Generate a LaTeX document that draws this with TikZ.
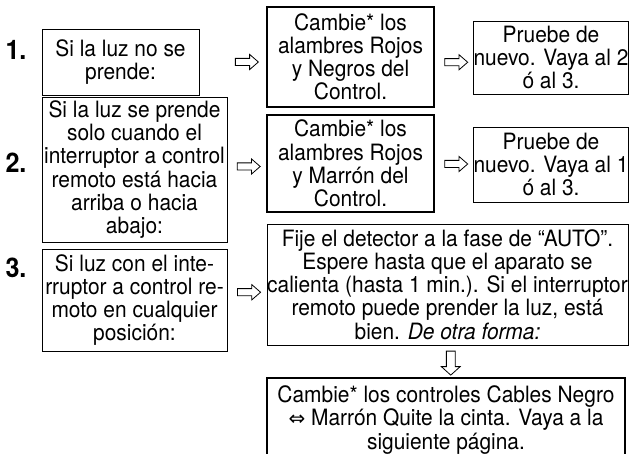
\documentclass[tikz,border=0pt]{standalone}
\usepackage{fontspec}
\setmainfont{TeX Gyre Heros}[FakeStretch=0.93]
\newfontfamily\symfont{DejaVu Sans}
\usepackage{tikz}
\usetikzlibrary{calc}
\usetikzlibrary{shapes.arrows}

\begin{document}
\begin{tikzpicture}[x=1pt,y=-1pt]
  \tikzset{mybox/.style={draw=black, line width=0.9pt, inner sep=0pt, align=center, font=\fontsize{22.5}{23.2}\selectfont}};
  \tikzset{mybigbox/.style={mybox, line width=2.4pt}};
  \tikzset{myarrow/.style={single arrow, draw=black, line width=0.8pt, inner xsep=0pt, inner ysep=3.2pt, minimum height=23pt, single arrow head extend=4pt, single arrow tip angle=82}};
  \tikzset{mydownarrow/.style={myarrow, shape border rotate=270, inner xsep=4pt, inner ysep=0pt, minimum height=24pt, single arrow head extend=5pt, single arrow tip angle=96}};
  \tikzset{mynum/.style={font=\fontsize{27}{27}\selectfont\bfseries, inner sep=0pt}};
  \useasboundingbox (0,0) rectangle (630,454);
  \clip (0,0) rectangle (630,454);

  \node[mynum] (n1) at (16,50) {1.};
  \node[mynum] (n2) at (16,163) {2.};
  \node[mynum] (n3) at (16,268) {3.};

  \node[mybox, minimum width=157pt, minimum height=66pt] (b1a) at (120.5,62) {Si la luz no se\\prende:};
  \node[mybigbox, minimum width=167pt, minimum height=100pt] (b1b) at (350.5,57) {Cambie* los\\alambres Rojos\\y Negros del\\Control.};
  \node[mybox, minimum width=155pt, minimum height=73pt] (b1c) at (551,57.5) {Pruebe de\\nuevo. Vaya al 2\\ó al 3.};

  \node[mybox, minimum width=185pt, minimum height=145pt] (b2a) at (134.5,169.5) {Si la luz se prende\\solo cuando el\\interruptor a control\\remoto está hacia\\arriba o hacia\\abajo:};
  \node[mybigbox, minimum width=167pt, minimum height=97pt] (b2b) at (350.5,163.5) {Cambie* los\\alambres Rojos\\y Marrón del\\Control.};
  \node[mybox, minimum width=155pt, minimum height=75pt] (b2c) at (551,164.5) {Pruebe de\\nuevo. Vaya al 1\\ó al 3.};

  \node[mybox, minimum width=185pt, minimum height=102pt] (b3a) at (134.5,300) {Si luz con el inte-\\rruptor a control re-\\moto en cualquier\\posición:};
  \node[mybox, minimum width=361pt, minimum height=121pt] (b3b) at (447.5,284.5) {Fije el detector a la fase de “AUTO”.\\Espere hasta que el aparato se\\calienta (hasta 1 min.). Si el interruptor\\remoto puede prender la luz, está\\bien. \textit{De otra forma:}};
  \node[mybigbox, minimum width=358pt, minimum height=84pt] (b4) at (446,420) {Cambie* los controles Cables Negro\\{\symfont\fontsize{20}{20}\selectfont ⇔} Marrón Quite la cinta. Vaya a la\\siguiente página.};

  \node[myarrow] (f1) at ($(b1b.west)+(-21,5)$) {};
  \node[myarrow] (g1) at ($(b1b.east)!.5!(b1c.west)+(0,5)$) {};
  \node[myarrow] (f2) at ($(b2a.east)!.5!(b2b.west)$) {};
  \node[myarrow] (g2) at ($(b2b.east)!.5!(b2c.west)$) {};
  \node[myarrow] (f3) at ($(b3a.east)!.5!(b3b.west)$) {};
  \node[mydownarrow] (h1) at ($(b3b.south)!.5!(b4.north)+(4,0)$) {};
\end{tikzpicture}
\end{document}
